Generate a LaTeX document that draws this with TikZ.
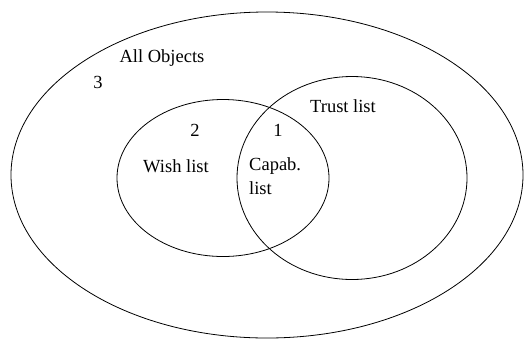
\documentclass[tikz,border=0pt]{standalone}
\usepackage{fontspec}
\setmainfont{Liberation Serif}
\usetikzlibrary{shapes.geometric,positioning}

\begin{document}
\begin{tikzpicture}[x=1pt,y=-1pt,
		set/.style={ellipse,draw,line width=0.8pt,inner sep=0pt},
		lbl/.style={inner sep=0pt,font=\fontsize{18.5}{24}\selectfont}]
			
			\useasboundingbox (0,0) rectangle (526,338);
			
			% Sets
			\node[set,minimum width=512pt,minimum height=326pt] (all) at (267,175) {};
			\node[set,minimum width=212pt,minimum height=157pt] (wish) at (223,178) {};
			\node[set,minimum width=230pt,minimum height=203pt] (trust) at (352,178) {};
			
			% Labels
			\node[lbl] (allname) at (162,58) {All Objects};
			\node[lbl] (three) at (98,82) {3};
			\node[lbl] (trustname) at (343,106) {Trust list};
			\node[lbl] (two) at (195,130) {2};
			\node[lbl] (one) at (278,130) {1};
			\node[lbl] (wishname) at (176,166) {Wish list};
			\node[lbl,align=left,anchor=north west] (capname) at (249,157) {Capab.\\list};
			
		\end{tikzpicture}
\end{document}
